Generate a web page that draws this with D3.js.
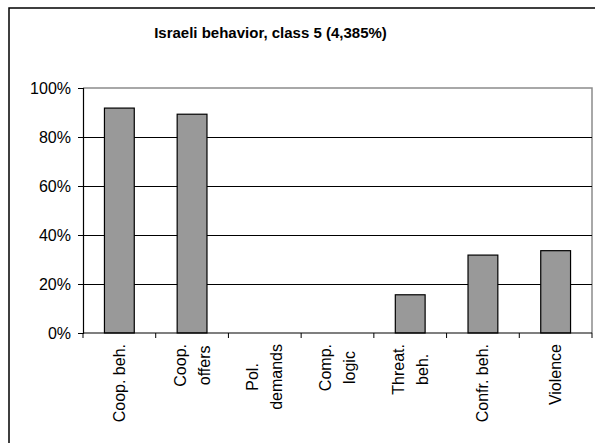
<!DOCTYPE html>
<html>
<head>
<meta charset="utf-8">
<script src="https://cdn.jsdelivr.net/npm/d3@7"></script>
<style>
  html, body { margin: 0; padding: 0; background: #fff; }
  svg { display: block; }
  text { font-family: "Liberation Sans", Arial, sans-serif; fill: #000; }
</style>
</head>
<body>
<script>
// ---- data ----
const title = "Israeli behavior, class 5 (4,385%)";
const categories = ["Coop. beh.", "Coop. offers", "Pol. demands", "Comp. logic", "Threat. beh.", "Confr. beh.", "Violence"];
const categoryLines = [["Coop. beh."], ["Coop.", "offers"], ["Pol.", "demands"], ["Comp.", "logic"], ["Threat.", "beh."], ["Confr. beh."], ["Violence"]];
const values = [0.918, 0.893, 0, 0, 0.156, 0.318, 0.336];
const yTicks = [0, 0.2, 0.4, 0.6, 0.8, 1.0];
const yTickLabels = ["0%", "20%", "40%", "60%", "80%", "100%"];

// ---- layout ----
const W = 595, H = 443;
const plot = { left: 83, right: 592, top: 88, bottom: 333 };

const svg = d3.select("body").append("svg").attr("width", W).attr("height", H);

// outer chart frame
svg.append("rect")
  .attr("x", 9).attr("y", 8)
  .attr("width", 620).attr("height", 460)
  .attr("fill", "#fff").attr("stroke", "#000").attr("stroke-width", 1.5);

// title
svg.append("text")
  .attr("x", 270.5).attr("y", 38)
  .attr("text-anchor", "middle")
  .attr("font-size", "15px").attr("font-weight", "bold")
  .text(title);

const x = d3.scaleBand().domain(categories)
  .range([plot.left, plot.right]).paddingInner(0.59).paddingOuter(0.295);
const y = d3.scaleLinear().domain([0, 1]).range([plot.bottom, plot.top]);

// plot area border (gray, top & right)
svg.append("path")
  .attr("d", `M${plot.left},${y(1)}H${plot.right}V${plot.bottom}`)
  .attr("fill", "none").attr("stroke", "#8c8c8c").attr("stroke-width", 1.5);

// gridlines
svg.append("g").selectAll("line")
  .data(yTicks.filter(t => t > 0 && t < 1))
  .join("line")
  .attr("x1", plot.left).attr("x2", plot.right)
  .attr("y1", d => Math.round(y(d)) + 0.5).attr("y2", d => Math.round(y(d)) + 0.5)
  .attr("stroke", "#000").attr("stroke-width", 1);

// bars
svg.append("g").selectAll("rect")
  .data(values)
  .join("rect")
  .attr("x", (d, i) => x(categories[i]))
  .attr("y", d => y(d))
  .attr("width", x.bandwidth())
  .attr("height", d => y(0) - y(d))
  .attr("fill", d => d > 0 ? "#999999" : "none")
  .attr("stroke", d => d > 0 ? "#000" : "none")
  .attr("stroke-width", 1.2);

// y axis
const yAxis = d3.axisLeft(y)
  .tickValues(yTicks)
  .tickFormat((d, i) => yTickLabels[i])
  .tickSize(5).tickPadding(7);
const gy = svg.append("g").attr("transform", `translate(${plot.left},0)`).call(yAxis);
gy.select(".domain").attr("stroke", "#000").attr("stroke-width", 1.2);
gy.selectAll(".tick line").attr("stroke", "#000");
gy.selectAll(".tick text")
  .attr("font-family", "'Liberation Sans', Arial, sans-serif")
  .attr("font-size", "16px").attr("fill", "#000");

// x axis line and boundary ticks
svg.append("line")
  .attr("x1", plot.left).attr("x2", plot.right)
  .attr("y1", plot.bottom).attr("y2", plot.bottom)
  .attr("stroke", "#000").attr("stroke-width", 1.2);
const gap = x.step() - x.bandwidth();
const boundaries = categories.map(c => x(c) - gap / 2).concat([plot.right]);
svg.append("g").selectAll("line")
  .data(boundaries)
  .join("line")
  .attr("x1", d => d).attr("x2", d => d)
  .attr("y1", plot.bottom).attr("y2", plot.bottom + 5)
  .attr("stroke", "#000").attr("stroke-width", 1);

// x labels (rotated, wrapped)
const labelTop = 344;
const lineGap = 24;
categoryLines.forEach((lines, i) => {
  const cx = x(categories[i]) + x.bandwidth() / 2;
  const g = svg.append("g");
  const texts = lines.map(l => g.append("text").attr("font-size", "16px").attr("text-anchor", "middle").text(l));
  const maxLen = d3.max(texts, t => t.node().getComputedTextLength());
  const centerY = labelTop + maxLen / 2;
  const n = lines.length;
  texts.forEach((t, j) => {
    const off = (j - (n - 1) / 2) * lineGap;
    const bx = cx + off + 5.5;
    t.attr("transform", `translate(${bx},${centerY}) rotate(-90)`);
  });
});
</script>
</body>
</html>
